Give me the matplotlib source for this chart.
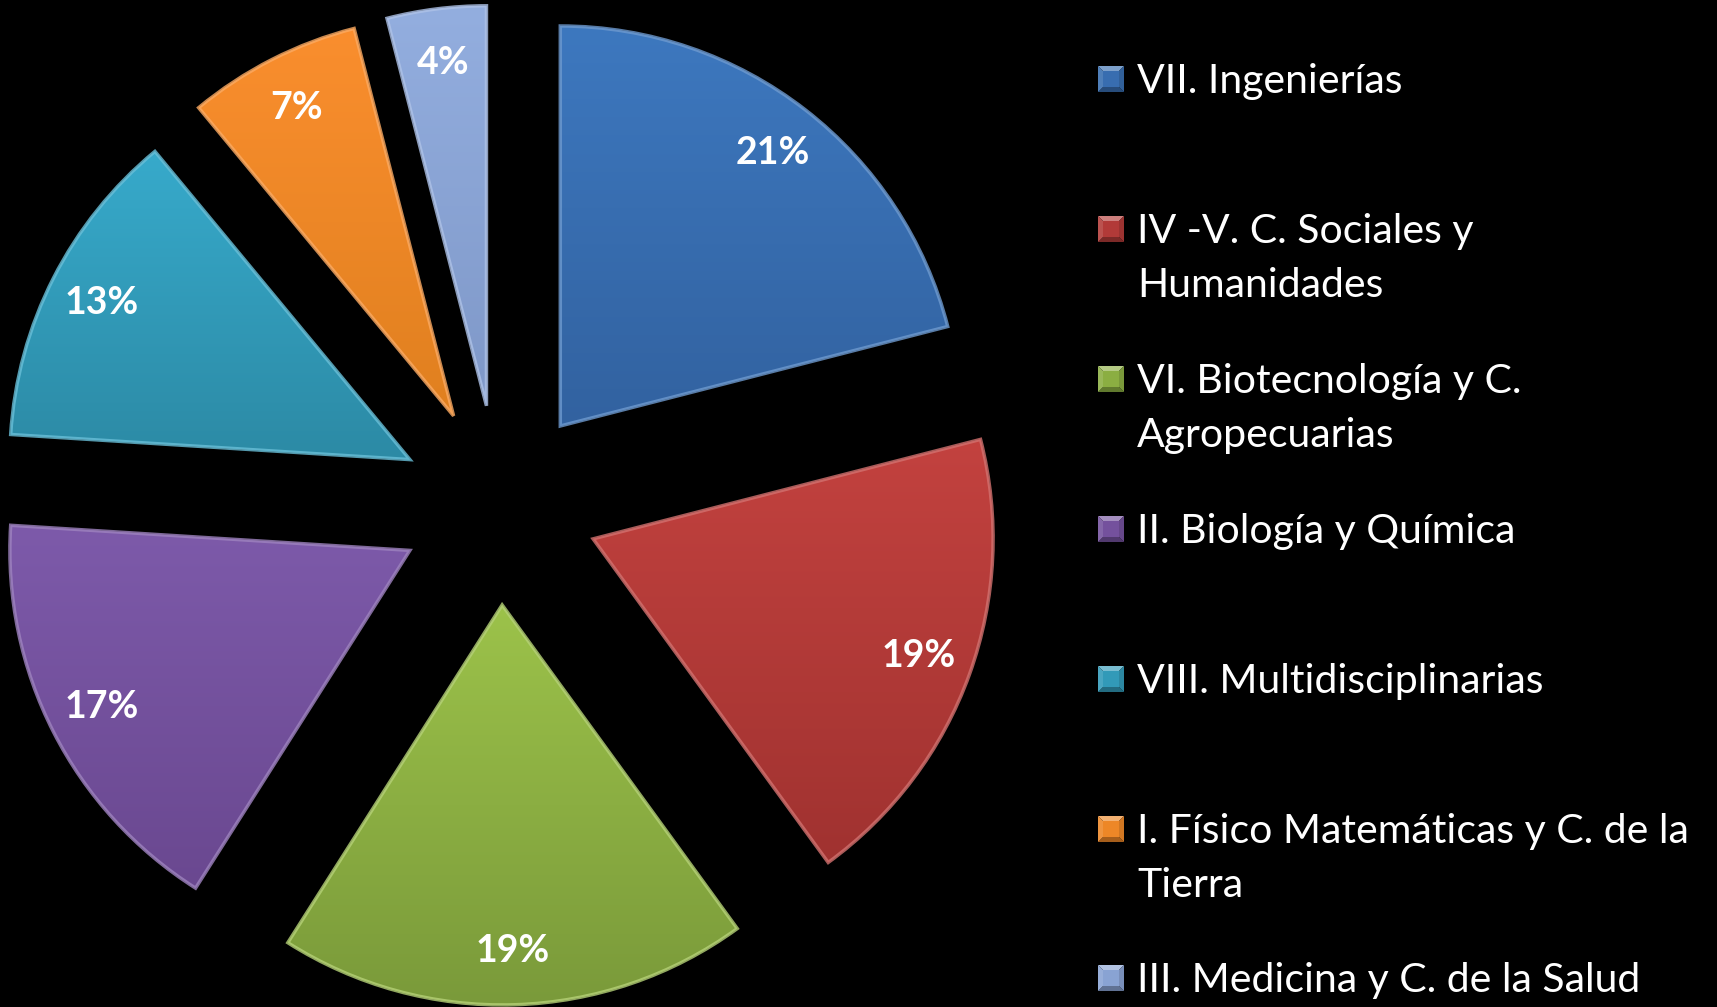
import numpy as np
import matplotlib
matplotlib.use("Agg")
import matplotlib.pyplot as plt
from matplotlib.colors import LinearSegmentedColormap, to_rgb
from matplotlib.patches import Polygon

# Distribution by area (percent)
categories = [
    "VII. Ingenierías",
    "IV -V. C. Sociales y\nHumanidades",
    "VI. Biotecnología y C.\nAgropecuarias",
    "II. Biología y Química",
    "VIII. Multidisciplinarias",
    "I. Físico Matemáticas y C. de la\nTierra",
    "III. Medicina y C. de la Salud",
]
shares = [21, 19, 19, 17, 13, 7, 4]

# top / bottom shade of each slice
top_colors = ["#3D78BF", "#C3423F", "#9CC24A", "#7D5AAA", "#37AACB", "#FA8E2E", "#93AEDF"]
bottom_colors = ["#3262A0", "#A03230", "#7A9A3A", "#6A4890", "#2C8AA5", "#E0801F", "#7F98C8"]

W, H = 1717, 1007
fig = plt.figure(figsize=(W / 100, H / 100), dpi=100, facecolor="black")
ax = fig.add_axes([0, 0, 1, 1])
ax.set_facecolor("black")

center = (499, H - 505)
radius = 400
explode = [100] * len(shares)

wedges, _, autotexts = ax.pie(
    shares, explode=explode, center=center, radius=radius,
    startangle=90, counterclock=False, colors=top_colors,
    autopct="%1.0f%%", pctdistance=0.865,
    textprops=dict(color="white", fontsize=27, fontweight="bold", family=["Lato", "DejaVu Sans"]),
    wedgeprops=dict(linewidth=0),
)


def mix(c, other, t):
    a, b = np.array(to_rgb(c)), np.array(to_rgb(other))
    return tuple(a * (1 - t) + b * t)


# vertical gradient fill clipped to each wedge, plus a soft bevel edge
grad = np.linspace(0, 1, 256).reshape(-1, 1)
for w, ct, cb in zip(wedges, top_colors, bottom_colors):
    ext = w.get_path().get_extents()
    cmap = LinearSegmentedColormap.from_list("g", [ct, cb])
    im = ax.imshow(grad, cmap=cmap, extent=[ext.x0, ext.x1, ext.y0, ext.y1],
                   origin="upper", aspect="auto", zorder=w.get_zorder() + 0.1,
                   interpolation="bilinear")
    im.set_clip_path(w)
    edge = w.__class__(w.center, w.r, w.theta1, w.theta2, facecolor="none",
                       edgecolor=mix(ct, "white", 0.25), linewidth=2.5,
                       alpha=0.8, zorder=w.get_zorder() + 0.2)
    ax.add_patch(edge)

for t in autotexts:
    t.set_zorder(5)

ax.set_xlim(0, W)
ax.set_ylim(0, H)
ax.set_aspect("equal")
ax.axis("off")

# legend drawn at the right with bevelled square keys
key_x0, key_size = 1098, 26
text_x = 1137
line_step = 54
first_line_centers = [79, 229, 379, 529, 679, 829, 978]
for lab, ct, cb, yc in zip(categories, top_colors, bottom_colors, first_line_centers):
    y = H - yc
    x0, x1 = key_x0, key_x0 + key_size
    y0, y1 = y - key_size / 2, y + key_size / 2
    inset = 5
    ix0, ix1, iy0, iy1 = x0 + inset, x1 - inset, y0 + inset, y1 - inset
    base = mix(ct, cb, 0.5)
    faces = [
        ([(x0, y1), (x1, y1), (ix1, iy1), (ix0, iy1)], mix(base, "white", 0.35)),
        ([(x0, y0), (x1, y0), (ix1, iy0), (ix0, iy0)], mix(base, "black", 0.3)),
        ([(x0, y0), (x0, y1), (ix0, iy1), (ix0, iy0)], mix(base, "white", 0.12)),
        ([(x1, y0), (x1, y1), (ix1, iy1), (ix1, iy0)], mix(base, "black", 0.12)),
        ([(ix0, iy0), (ix1, iy0), (ix1, iy1), (ix0, iy1)], base),
    ]
    for pts, fc in faces:
        ax.add_patch(Polygon(pts, closed=True, facecolor=fc, edgecolor="none", zorder=5))
    for i, line in enumerate(lab.split("\n")):
        ax.text(text_x, y - 14 - i * line_step, line, color="white", fontsize=29.5,
                family=["Lato", "DejaVu Sans"], ha="left", va="baseline", zorder=6)

fig.savefig("out.png", dpi=100, facecolor="black")
